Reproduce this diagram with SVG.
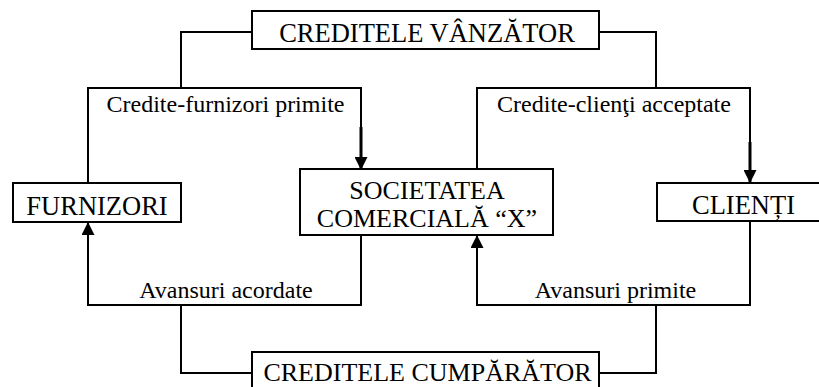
<svg xmlns="http://www.w3.org/2000/svg" width="819" height="387" viewBox="0 0 819 387">
<defs>
<style>
.box{fill:#fff;stroke:#000;stroke-width:2}
.t{font-family:"Liberation Serif","Times New Roman",serif;font-size:26.5px;fill:#000;text-anchor:middle}
.t2{font-family:"Liberation Serif","Times New Roman",serif;font-size:26px;fill:#000;text-anchor:middle}
.lbl{font-family:"Liberation Serif","Times New Roman",serif;font-size:24px;fill:#000;text-anchor:middle}
.c{fill:none;stroke:#000;stroke-width:2}
.thick{fill:none;stroke:#000;stroke-width:3}
</style>
<marker id="ah" markerUnits="userSpaceOnUse" markerWidth="13" markerHeight="13" refX="13" refY="6.5" orient="auto" viewBox="0 0 13 13">
<path d="M0,0 L13,6.5 L0,13 z" fill="#000"/>
</marker>
</defs>
<rect width="819" height="387" fill="#fff"/>
<g id="connectors">
<path class="c" d="M252,32 H181 V88"/>
<path class="c" d="M88,183 V88 H361 V127"/>
<path class="thick" d="M361,127 V170" marker-end="url(#ah)"/>
<path class="c" d="M599,32 H656 V88"/>
<path class="c" d="M477,169 V88 H750 V142"/>
<path class="thick" d="M750,142 V183" marker-end="url(#ah)"/>
<path class="c" d="M361,235 V305 H88 V222" marker-end="url(#ah)"/>
<path class="c" d="M181,305 V373 H252"/>
<path class="c" d="M750,221 V305 H477 V235" marker-end="url(#ah)"/>
<path class="c" d="M656,305 V373 H599"/>
<text class="lbl" x="225.5" y="112">Credite-furnizori primite</text>
<text class="lbl" x="614" y="112">Credite-clienţi acceptate</text>
<text class="lbl" x="226" y="298">Avansuri acordate</text>
<text class="lbl" x="615.5" y="298">Avansuri primite</text>
</g>
<g id="creditele-vanzator">
<rect class="box" x="252" y="11" width="347" height="38"/>
<text class="t" x="427" y="42">CREDITELE VÂNZĂTOR</text>
</g>
<g id="furnizori">
<rect class="box" x="13" y="183" width="168" height="39"/>
<text class="t" x="97" y="215">FURNIZORI</text>
</g>
<g id="societatea">
<rect class="box" x="300" y="169" width="253" height="66"/>
<text class="t2" x="427" y="199">SOCIETATEA</text>
<text class="t2" x="427" y="227">COMERCIALĂ “X”</text>
</g>
<g id="clienti">
<rect class="box" x="657" y="183" width="175" height="38"/>
<text class="t" x="743.5" y="213.5">CLIENȚI</text>
</g>
<g id="creditele-cumparator">
<rect class="box" x="252" y="352" width="347" height="45"/>
<text class="t2" x="427.5" y="381">CREDITELE CUMPĂRĂTOR</text>
</g>
</svg>
